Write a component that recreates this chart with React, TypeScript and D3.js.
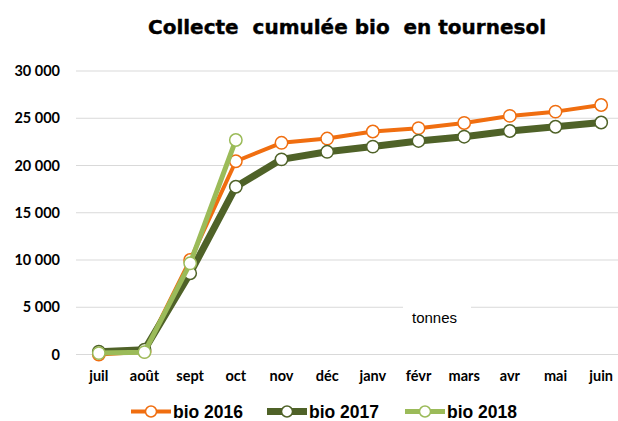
import React from 'react';
import * as d3 from 'd3';

const months = ['juil', 'août', 'sept', 'oct', 'nov', 'déc', 'janv', 'févr', 'mars', 'avr', 'mai', 'juin'];
const bio2016 = [0, 300, 10000, 20450, 22400, 22850, 23600, 23950, 24500, 25250, 25700, 26400];
const bio2017 = [300, 500, 8600, 17750, 20650, 21450, 22000, 22600, 23050, 23650, 24100, 24550];
const bio2018 = [150, 250, 9650, 22700];
const yTicks = [0, 5000, 10000, 15000, 20000, 25000, 30000];

const series = [
  { name: 'bio 2016', values: bio2016, color: '#f06e10', width: 4 },
  { name: 'bio 2017', values: bio2017, color: '#4f6228', width: 7 },
  { name: 'bio 2018', values: bio2018, color: '#9bbb59', width: 5 },
];

const W = 618;
const H = 421;
const plotLeft = 76;
const plotRight = 624;

const fmt = (v: number) => d3.format(',')(v).replace(/,/g, ' ');

export default function App() {
  const x = d3.scalePoint<string>().domain(months).range([plotLeft, plotRight]).padding(0.5);
  const y = d3.scaleLinear().domain([0, 30000]).range([354.5, 71]);

  const line = d3
    .line<number>()
    .x((_, i) => x(months[i])!)
    .y((d) => y(d));

  const legendX = [131, 267, 405];

  return (
    <svg
      width={W}
      height={H}
      style={{ position: 'absolute', left: 0, top: 0, background: '#fff' }}
    >
      <rect width={W} height={H} fill="#fff" />
      <text
        x={347}
        y={34}
        textAnchor="middle"
        fontFamily="DejaVu Sans"
        fontWeight="bold"
        fontSize={20}
        stroke="#000"
        strokeWidth={0.4}
        style={{ whiteSpace: 'pre' }}
      >
        {'Collecte  cumulée bio  en tournesol'}
      </text>

      {/* grid */}
      {yTicks.map((t) => (
        <g key={t}>
          <line x1={plotLeft} x2={W} y1={y(t)} y2={y(t)} stroke="#d9d9d9" strokeWidth={1} />
          <text
            x={60}
            y={y(t) + 5}
            textAnchor="end"
            fontFamily="Lato"
            fontWeight="bold"
            fontSize={14.5}
            fill="#000"
          >
            {fmt(t)}
          </text>
        </g>
      ))}

      {/* axis title box */}
      <rect x={403} y={299} width={68} height={30} fill="#fff" />
      <text x={412} y={323} fontFamily="Liberation Sans" fontSize={15} fill="#000">
        tonnes
      </text>

      {months.map((m) => (
        <text
          key={m}
          x={x(m)}
          y={381}
          textAnchor="middle"
          fontFamily="Lato"
          fontWeight="bold"
          fontSize={14.5}
          fill="#000"
        >
          {m}
        </text>
      ))}

      {/* series */}
      {series.map((s) => (
        <g key={s.name}>
          <path
            d={line(s.values) || ''}
            fill="none"
            stroke={s.color}
            strokeWidth={s.width}
            strokeLinejoin="round"
          />
          {s.values.map((v, i) => (
            <circle
              key={i}
              cx={x(months[i])}
              cy={y(v)}
              r={6.2}
              fill="#fff"
              stroke={s.color}
              strokeWidth={1.5}
            />
          ))}
        </g>
      ))}

      {/* legend */}
      {series.map((s, i) => (
        <g key={s.name} transform={`translate(${legendX[i]},411.5)`}>
          <line x1={0} x2={40} y1={0} y2={0} stroke={s.color} strokeWidth={s.width} />
          <circle cx={20} cy={0} r={5.5} fill="#fff" stroke={s.color} strokeWidth={1.5} />
          <text
            x={42}
            y={6}
            fontFamily="Liberation Sans"
            fontWeight="bold"
            fontSize={17.5}
            fill="#000"
          >
            {s.name}
          </text>
        </g>
      ))}
    </svg>
  );
}
